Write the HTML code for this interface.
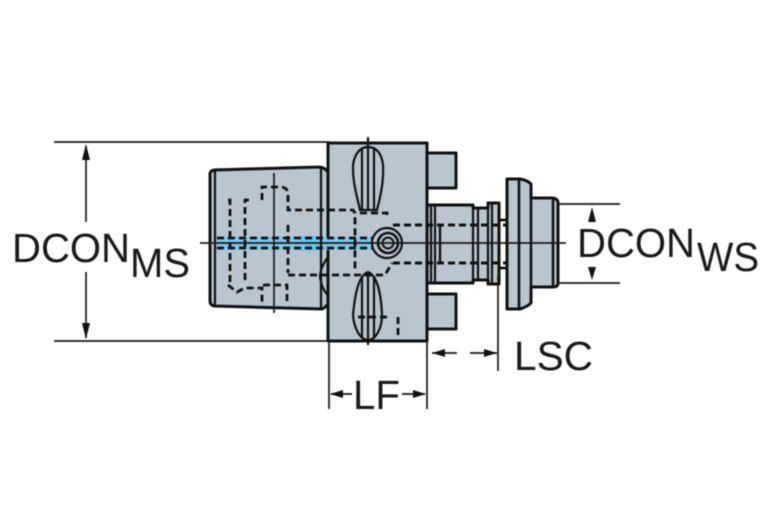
<!DOCTYPE html>
<html><head><meta charset="utf-8"><style>html,body{margin:0;padding:0;background:#fff}svg{display:block;filter:blur(.45px)}text{font-family:"Liberation Sans",sans-serif;fill:#1a1a1a;font-size:41px}</style></head>
<body><svg width="767" height="523" viewBox="0 0 767 523" xmlns="http://www.w3.org/2000/svg">
<!-- filled bodies -->
<g fill="#b9c6d0" stroke="#111" stroke-width="3" stroke-linejoin="round">
<path d="M214 170 L320 167 Q325 168 328 172 V304 Q325 308 322 309 L214 306 Q210 305 210 301 V174 Q210 171 214 170Z"/>
<rect x="427" y="153" width="29" height="35"/>
<rect x="427" y="294" width="29" height="35"/>
<path d="M427 205 H473 V208 H488 V203 H499 V284 H488 V280 H473 V283 H427Z"/>
<path d="M507 179 H520 Q527 180 531 184 V198 H553 Q558 199 558 203 V283 Q558 287 553 287 H531 V303 Q527 307 520 309 H507Z"/>
<rect x="328" y="143" width="99" height="198"/>
</g>
<!-- coolant band -->
<rect x="217" y="237" width="156" height="13" fill="#82c6e6"/>
<rect x="300" y="236" width="18" height="15" fill="#6cc4f0"/>
<!-- body details -->
<g fill="none" stroke="#111" stroke-width="2.2">
<path d="M215 170 V306"/><path d="M321 167 V309"/>
<path d="M328 257 Q320 268 320 277 Q322 290 328 295"/>
<path d="M431 205 V283 M435 205 V283 M473 205 V283 M478 208 V280 M488 203 V284 M492 203 V284"/>
<path d="M519 179 V309 M531 184 V303 M553 199 V287" stroke-width="2.6"/>
<path d="M440 225 V262" stroke-width="2.4"/>
</g>
<!-- handles -->
<g fill="#b9c6d0" stroke="#111" stroke-width="2.2">
<path d="M368 147 C358 147 353 158 353 168 C353 185 358 200 360 210 H377 C380 198 384 182 383 165 C382 156 378 147 368 147Z"/>
<path d="M368 272 C358 276 355 295 353 315 C354 328 360 340 368 340 C376 340 382 328 382 315 C381 295 378 276 368 272Z"/>
<path d="M362 149 V210 M368 137 V211 M374 149 V210"/>
<path d="M362 276 V338 M368 272 V345 M374 276 V338"/>
</g>
<!-- dashed hidden lines -->
<g fill="none" stroke="#111" stroke-width="2.8" stroke-dasharray="7 4">
<path d="M230 282 V200 H224"/>
<path d="M245 280 V200 H251"/>
<path d="M262 200 V187 H280 Q287 187 288 193 V210 H353 L355 213 V270"/>
<path d="M288 225 V273 M288 275 H355 H385 L392 263"/>
<path d="M360 213 H387 V217"/>
<path d="M228 285 L237 292 L245 288 H262 V302"/>
<path d="M263 285 H287 V303"/>
<path d="M393 225 H507 M393 263 H507" stroke-width="3"/>
<path d="M500 220 H507 M500 268 H507"/>
<path d="M358 317 H388 M398 317 V338"/>
<path d="M217 238 H373 M217 248 H373"/>
</g>
<!-- ball screw -->
<circle cx="387" cy="243" r="15" fill="#b9c6d0" stroke="#111" stroke-width="2.2"/>
<circle cx="388" cy="243" r="10" fill="#b9c6d0" stroke="#111" stroke-width="2.6"/>
<circle cx="388" cy="243" r="5.5" fill="#a8bcc8" stroke="#111" stroke-width="2"/>
<!-- dimension lines -->
<g fill="none" stroke="#1a1a1a" stroke-width="1.7">
<path d="M54 142 H330 M54 341 H330"/>
<path d="M86 146 V222 M86 272 V338"/>
<path d="M558 204 H620 M558 283 H620"/>
<path d="M200 243 H566"/>
<path d="M329 341 V409 M427 341 V409 M498 275 V371"/>
<path d="M331 394 H352 M402 394 H425"/>
<path d="M432 353 H457 M470 353 H497"/>
<path d="M274 173 V313"/>
</g>
<g fill="#111">
<path d="M86 144 L82 160 H90Z M86 339 L82 323 H90Z"/>
<path d="M592 207 L588 222 H596Z M592 280 L588 267 H596Z"/>
<path d="M330 394 L343 390 V398Z M426 394 L413 390 V398Z"/>
<path d="M432 353 L445 349 V357Z M497 353 L484 349 V357Z"/>
</g>
<!-- labels -->
<text x="12" y="262" textLength="118" lengthAdjust="spacingAndGlyphs">DCON</text>
<text x="130" y="277" textLength="60" lengthAdjust="spacingAndGlyphs">MS</text>
<text x="577" y="257" textLength="118" lengthAdjust="spacingAndGlyphs">DCON</text>
<text x="697" y="271" textLength="62" lengthAdjust="spacingAndGlyphs">WS</text>
<text x="514" y="370" textLength="79" lengthAdjust="spacingAndGlyphs">LSC</text>
<text x="353" y="409" textLength="47" lengthAdjust="spacingAndGlyphs">LF</text>
</svg></body></html>
